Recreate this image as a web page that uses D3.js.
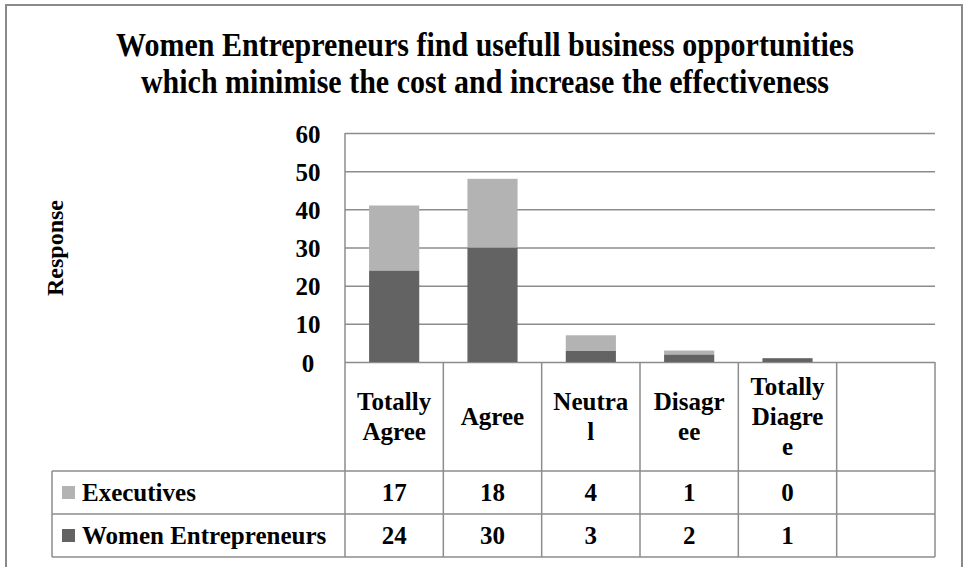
<!DOCTYPE html>
<html>
<head>
<meta charset="utf-8">
<script src="https://cdn.jsdelivr.net/npm/d3@7"></script>
<style>
  html, body { margin: 0; padding: 0; background: #fff; }
  svg text { font-family: "Liberation Serif", "Times New Roman", serif; font-weight: bold; fill: #000; }
</style>
</head>
<body>
<svg id="chart" width="965" height="567"></svg>
<script>
// ---- data ----
const titleLines = ["Women Entrepreneurs find usefull business opportunities",
                    "which minimise the cost and increase the effectiveness"];
const yAxisTitle = "Response";
const categories = ["Totally Agree", "Agree", "Neutral", "Disagree", "Totally Diagree"];
const seriesNames = ["Executives", "Women Entrepreneurs"];
const executives = [17, 18, 4, 1, 0];
const womenEntrepreneurs = [24, 30, 3, 2, 1];
const yTicks = [0, 10, 20, 30, 40, 50, 60];
const seriesColors = ["#b3b3b3", "#636363"];

// ---- layout ----
const svg = d3.select("#chart");
const W = 965, H = 567;
const plot = { left: 345, right: 935, top: 133, bottom: 362 };
const table = { left: 52, headerBottom: 471, rowH: 43 };
const lineColor = "#8c8c8c";
const fs = 25;

// outer border
svg.append("rect").attr("x", 6).attr("y", 5).attr("width", 956).attr("height", 600)
  .attr("fill", "none").attr("stroke", "#8a8a8a").attr("stroke-width", 2);

// title
const title = svg.append("g");
titleLines.forEach((t, i) => {
  const by = 56 + i * 37;
  title.append("text")
    .attr("x", 485).attr("y", 0)
    .attr("transform", `translate(0,${by}) scale(1,1.1)`)
    .attr("text-anchor", "middle")
    .style("font-size", "30px")
    .text(t);
});

// scales
const slots = categories.concat([""]);
const x = d3.scaleBand().domain(slots).range([plot.left, plot.right]).paddingInner(0.49).paddingOuter(0.245);
const xCell = d3.scaleBand().domain(slots).range([plot.left, plot.right]);
const y = d3.scaleLinear().domain([0, 60]).range([plot.bottom, plot.top]);

// gridlines via axis
const grid = svg.append("g").attr("transform", `translate(${plot.left},0)`)
  .call(d3.axisLeft(y).tickValues(yTicks).tickSize(-(plot.right - plot.left)).tickFormat(""));
grid.select(".domain").remove();
grid.selectAll(".tick line").attr("stroke", lineColor).attr("stroke-width", 1.5);

// y axis labels
const yLab = svg.append("g").attr("transform", `translate(308,0)`)
  .call(d3.axisLeft(y).tickValues(yTicks).tickSize(0).tickPadding(0));
yLab.select(".domain").remove();
yLab.selectAll(".tick text")
  .attr("text-anchor", "middle").attr("x", 0).attr("dy", null).attr("y", 9)
  .style("font-size", fs + "px").style("font-family", "'Liberation Serif', serif").style("font-weight", "bold").attr("fill", "#000");

// y axis title
svg.append("text")
  .attr("transform", "translate(63,248) rotate(-90)")
  .attr("text-anchor", "middle")
  .style("font-size", "24px")
  .text(yAxisTitle);

// stacked bars
const rows = categories.map((c, i) => ({ cat: c, "Women Entrepreneurs": womenEntrepreneurs[i], "Executives": executives[i] }));
const stack = d3.stack().keys(["Women Entrepreneurs", "Executives"])(rows);
const colorOf = { "Executives": seriesColors[0], "Women Entrepreneurs": seriesColors[1] };
svg.append("g").selectAll("g").data(stack).join("g")
  .attr("fill", d => colorOf[d.key])
  .selectAll("rect").data(d => d).join("rect")
  .attr("x", d => x(d.data.cat))
  .attr("width", x.bandwidth())
  .attr("y", d => y(d[1]))
  .attr("height", d => y(d[0]) - y(d[1]));

// plot left axis line
svg.append("line").attr("x1", plot.left).attr("x2", plot.left)
  .attr("y1", plot.top).attr("y2", plot.bottom)
  .attr("stroke", lineColor).attr("stroke-width", 1.5);

// ---- data table ----
const tg = svg.append("g");
const tableBottom = table.headerBottom + 2 * table.rowH;
// vertical lines for category columns
slots.forEach((s, i) => {
  tg.append("line").attr("x1", xCell(s)).attr("x2", xCell(s))
    .attr("y1", plot.bottom).attr("y2", tableBottom)
    .attr("stroke", lineColor).attr("stroke-width", 1.5);
});
tg.append("line").attr("x1", plot.right).attr("x2", plot.right)
  .attr("y1", plot.bottom).attr("y2", tableBottom)
  .attr("stroke", lineColor).attr("stroke-width", 1.5);
// left border of row-label column
tg.append("line").attr("x1", table.left).attr("x2", table.left)
  .attr("y1", table.headerBottom).attr("y2", tableBottom)
  .attr("stroke", lineColor).attr("stroke-width", 1.5);
// horizontal lines
[table.headerBottom, table.headerBottom + table.rowH, tableBottom].forEach(yy => {
  tg.append("line").attr("x1", table.left).attr("x2", plot.right)
    .attr("y1", yy).attr("y2", yy)
    .attr("stroke", lineColor).attr("stroke-width", 1.5);
});

// header labels with character wrapping
const maxW = 79;
const headerCenter = (plot.bottom + table.headerBottom) / 2 + 0.5;
const lh = 30;
categories.forEach(c => {
  const t = tg.append("text").attr("text-anchor", "middle").style("font-size", fs + "px")
    .attr("x", xCell(c) + xCell.bandwidth() / 2);
  // wrap: words first, then characters
  const probe = tg.append("text").style("font-size", fs + "px");
  const measure = s => { probe.text(s); return probe.node().getComputedTextLength(); };
  const lines = [];
  c.split(" ").forEach(word => {
    let rest = word;
    while (rest.length) {
      let n = rest.length;
      while (n > 1 && measure(rest.slice(0, n)) > maxW) n--;
      lines.push(rest.slice(0, n));
      rest = rest.slice(n);
    }
  });
  probe.remove();
  lines.forEach((ln, i) => {
    t.append("tspan").attr("x", xCell(c) + xCell.bandwidth() / 2)
      .attr("y", headerCenter + (i - (lines.length - 1) / 2) * lh + 8)
      .text(ln);
  });
});

// data rows
const seriesValues = [executives, womenEntrepreneurs];
seriesNames.forEach((name, r) => {
  const cy = table.headerBottom + r * table.rowH + table.rowH / 2;
  tg.append("rect").attr("x", 62).attr("y", cy - 6.5).attr("width", 13).attr("height", 13)
    .attr("fill", seriesColors[r]);
  tg.append("text").attr("x", 82).attr("y", cy + 8.5).style("font-size", fs + "px").text(name);
  seriesValues[r].forEach((v, i) => {
    tg.append("text").attr("text-anchor", "middle")
      .attr("x", xCell(categories[i]) + xCell.bandwidth() / 2)
      .attr("y", cy + 8.5).style("font-size", fs + "px").text(v);
  });
});
</script>
</body>
</html>
